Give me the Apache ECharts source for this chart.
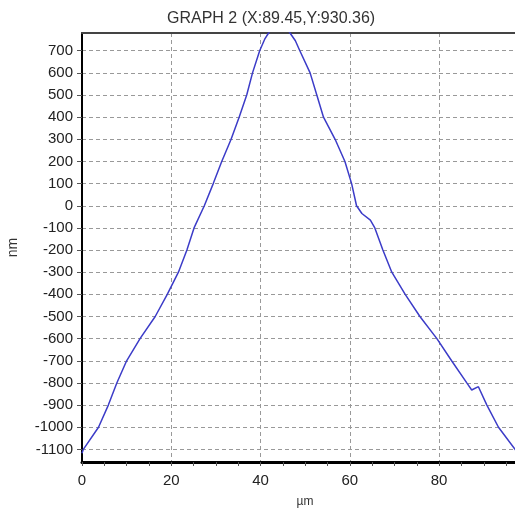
<!DOCTYPE html>
<html>
<head>
<meta charset="utf-8">
<script src="https://cdn.jsdelivr.net/npm/echarts@6/dist/echarts.min.js"></script>
<style>
html,body{margin:0;padding:0;background:#fff;}
#chart{width:515px;height:508px;}
</style>
</head>
<body>
<div id="chart"></div>
<script>
// Profile position (µm)
var xValues = [0, 0.3, 3.7, 5.9, 7.8, 10.0, 13.0, 16.4, 19.1, 21.6, 23.5, 25.1, 27.4, 29.4, 31.3, 33.4, 35.2, 36.9, 38.2, 39.8, 41.0, 41.8, 43.0, 44.2, 45.4, 46.6, 47.8, 48.8, 51.1, 52.6, 54.1, 56.7, 58.9, 60.4, 61.5, 62.7, 64.6, 65.6, 67.4, 69.4, 72.4, 75.7, 79.5, 82.8, 86.2, 87.3, 88.8, 90.7, 93.3, 97.0, 97.3];
// Height (nm)
var yValues = [-1118, -1100, -1000, -900, -800, -700, -600, -500, -400, -300, -200, -100, 0, 100, 200, 300, 400, 500, 600, 700, 755, 780, 815, 825, 815, 780, 745, 700, 600, 500, 400, 300, 200, 100, 0, -35, -65, -100, -200, -300, -400, -500, -600, -700, -800, -832, -817, -900, -1000, -1100, -1108];
var yTicks = [-1100, -1000, -900, -800, -700, -600, -500, -400, -300, -200, -100, 0, 100, 200, 300, 400, 500, 600, 700];
var xTicks = [0, 20, 40, 60, 80];
var xMinorTicks = [0, 5, 10, 15, 20, 25, 30, 35, 40, 45, 50, 55, 60, 65, 70, 75, 80, 85, 90, 95];
var titleText = 'GRAPH 2 (X:89.45,Y:930.36)';

var data = xValues.map(function (x, i) { return [x, yValues[i]]; });
var font = '"Liberation Sans", Arial, sans-serif';
var plain = function (v) { return String(v); };
var chart = echarts.init(document.getElementById('chart'));
chart.setOption({
  animation: false,
  backgroundColor: '#fff',
  title: {
    text: titleText,
    left: 162, top: 6,
    textStyle: { fontFamily: font, fontSize: 16, fontWeight: 'normal', color: '#333' }
  },
  grid: { left: 82, top: 33, right: 0, bottom: 46, containLabel: false, outerBoundsMode: 'none' },
  xAxis: [{
    type: 'value', min: 0, max: 97, position: 'bottom',
    name: 'µm', nameLocation: 'middle', nameGap: 34,
    nameTextStyle: { fontFamily: font, fontSize: 12, color: '#333', padding: [0, 0, 0, 13] },
    axisLine: { show: true, onZero: false, lineStyle: { color: '#000', width: 3 } },
    axisTick: { show: true, inside: false, length: 4, customValues: xMinorTicks, lineStyle: { color: '#555', width: 1 } },
    axisLabel: { customValues: xTicks, margin: 11, fontFamily: font, fontSize: 15, color: '#222', formatter: plain },
    splitLine: { show: false }
  }, {
    type: 'value', min: 0, max: 97, position: 'top',
    axisLine: { show: true, onZero: false, lineStyle: { color: '#444', width: 2 } },
    axisTick: { show: false, customValues: xTicks },
    axisLabel: { show: false },
    splitLine: { show: true, lineStyle: { color: '#999', type: [4, 3], width: 1 } }
  }],
  yAxis: {
    type: 'value', min: -1157, max: 780,
    name: 'nm', nameLocation: 'middle', nameGap: 62,
    nameTextStyle: { fontFamily: font, fontSize: 14, color: '#333' },
    axisLine: { show: true, onZero: false, lineStyle: { color: '#000', width: 2 } },
    axisTick: { show: true, inside: false, length: 5, customValues: yTicks, lineStyle: { color: '#555', width: 1 } },
    axisLabel: { customValues: yTicks, margin: 9, fontFamily: font, fontSize: 15, color: '#222', formatter: plain },
    splitLine: { show: true, lineStyle: { color: '#999', type: [4, 3], width: 1 } }
  },
  series: [{
    type: 'line',
    xAxisIndex: 0,
    data: data,
    showSymbol: false,
    smooth: false,
    clip: true,
    lineStyle: { color: '#3c3cc8', width: 1.5 },
    itemStyle: { color: '#3c3cc8' }
  }]
});
</script>
</body>
</html>
